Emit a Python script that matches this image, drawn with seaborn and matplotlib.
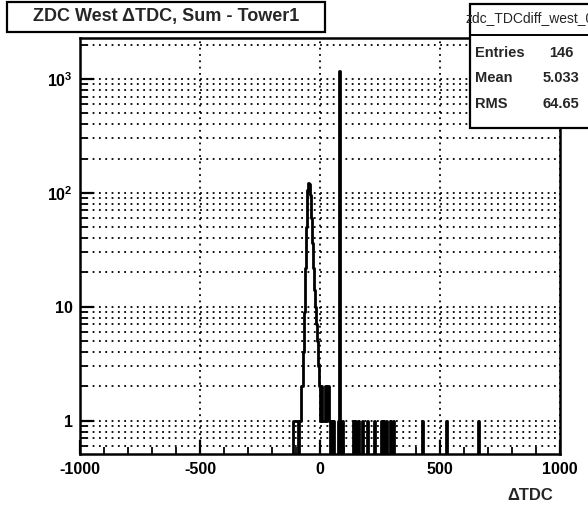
import numpy as np
import pandas as pd
import matplotlib
matplotlib.use("Agg")
import matplotlib.pyplot as plt
import matplotlib.ticker as mticker
from matplotlib.patches import Rectangle
import seaborn as sns

# histogram contents: bin centre (Delta TDC) and counts (bins of width 4)
bin_centers = [-110, -106, -102, -98, -94, -86, -82, -78, -74, -70, -66, -62,
               -58, -54, -50, -46, -42, -38, -34, -30, -26, -22, -18, -14,
               -10, -6, -2, 2, 6, 10, 14, 18, 22, 26, 30, 34, 38, 50, 58, 78,
               82, 90, 94, 138, 146, 162, 178, 198, 226, 258, 266, 278, 294,
               306, 426, 526, 662]
bin_counts = [1, 1, 1, 1, 1, 1, 1, 2, 2, 4, 9, 22,
              50, 105, 120, 122, 120, 95, 60, 36, 22, 14, 10, 7,
              5, 3, 2, 1, 2, 1, 1, 1, 2, 1, 2, 2, 1, 1, 1, 1,
              1175, 1, 1, 1, 1, 1, 1, 1, 1, 1, 1, 1, 1,
              1, 1, 1, 1]

title = "ZDC West \u0394TDC, Sum - Tower1"
hist_name = "zdc_TDCdiff_west_0"
stats = [("Entries", "146"), ("Mean", "5.033"), ("RMS", "64.65")]
x_ticks = [-1000, -500, 0, 500, 1000]
y_ticks = [1, 10, 100, 1000]
y_ticklabels = ["1", "10", r"$\mathbf{10^{2}}$", r"$\mathbf{10^{3}}$"]

df = pd.DataFrame({"dtdc": bin_centers, "n": bin_counts})

sns.set_theme(style="white")
plt.rcParams["font.family"] = ["Liberation Sans", "DejaVu Sans"]
plt.rcParams["font.weight"] = "bold"
plt.rcParams["mathtext.fontset"] = "custom"
plt.rcParams["mathtext.bf"] = "Liberation Sans:bold"
plt.rcParams["mathtext.rm"] = "Liberation Sans:bold"

W, H = 588, 507
fig = plt.figure(figsize=(W / 100, H / 100), dpi=100)
fig.patch.set_facecolor("white")
ax = fig.add_axes([80 / W, 1 - 454 / H, 480 / W, (454 - 37.7) / H])

# draw the histogram outline
sns.histplot(data=df, x="dtdc", weights="n", bins=500, binrange=(-1000, 1000),
             element="step", fill=False, color="black", linewidth=2.0, ax=ax)

ax.set_yscale("log")
ax.set_xlim(-1000, 1000)
ax.set_ylim(0.51, 2300)
ax.set_xlabel("")
ax.set_ylabel("")

ax.set_xticks(x_ticks)
ax.set_xticklabels([str(v) for v in x_ticks])
ax.xaxis.set_minor_locator(mticker.MultipleLocator(100))
ax.set_yticks(y_ticks)
ax.set_yticklabels(y_ticklabels)
ax.yaxis.set_minor_locator(mticker.LogLocator(base=10, subs=np.arange(2, 10)))
ax.yaxis.set_minor_formatter(mticker.NullFormatter())

ax.tick_params(axis="both", which="both", bottom=True, left=True,
               top=False, right=False)
ax.tick_params(axis="both", which="major", direction="in", length=10, width=1.6,
               labelsize=11.5, pad=5, colors="black")
ax.tick_params(axis="both", which="minor", direction="in", length=5, width=1.3,
               colors="black")
ax.tick_params(axis="x", which="major", pad=6)
for lab in ax.get_xticklabels() + ax.get_yticklabels():
    lab.set_fontweight("bold")

# dotted ROOT-like grid
grid_style = dict(color="black", linestyle=(0, (1, 2.5)), linewidth=1.3)
ax.grid(True, axis="x", which="major", **grid_style)
ax.grid(True, axis="y", which="both", **grid_style)

for sp in ax.spines.values():
    sp.set_linewidth(1.8)
    sp.set_color("black")

# title box
fig.patches.append(Rectangle((7 / W, 1 - 32 / H), 318 / W, 30 / H,
                             transform=fig.transFigure, facecolor="white",
                             edgecolor="black", linewidth=1.6))
fig.text(166 / W, 1 - 17 / H, title, ha="center", va="center",
         fontsize=13, fontweight="bold")

# stats box
fig.patches.append(Rectangle((470 / W, 1 - 128 / H), 140 / W, 124 / H,
                             transform=fig.transFigure, facecolor="white",
                             edgecolor="black", linewidth=1.6, zorder=5))
fig.lines.append(plt.Line2D([470 / W, 1], [1 - 35 / H, 1 - 35 / H],
                            transform=fig.transFigure, color="black",
                            linewidth=1.4, zorder=6))
fig.text(466 / W, 1 - 18 / H, hist_name, ha="left", va="center",
         fontsize=10, fontweight="normal", zorder=7)
for i, (name, val) in enumerate(stats):
    yy = 1 - (53 + 25.5 * i) / H
    fig.text(475 / W, yy, name, ha="left", va="center", fontsize=10.5,
             fontweight="bold", zorder=7)
    fig.text(561 / W, yy, val, ha="center", va="center", fontsize=10.5,
             fontweight="bold", zorder=7)

# x-axis title
fig.text(530 / W, 1 - 495 / H, "\u0394TDC", ha="center", va="center",
         fontsize=12, fontweight="bold")

fig.savefig("out.png", dpi=100)
plt.close(fig)
